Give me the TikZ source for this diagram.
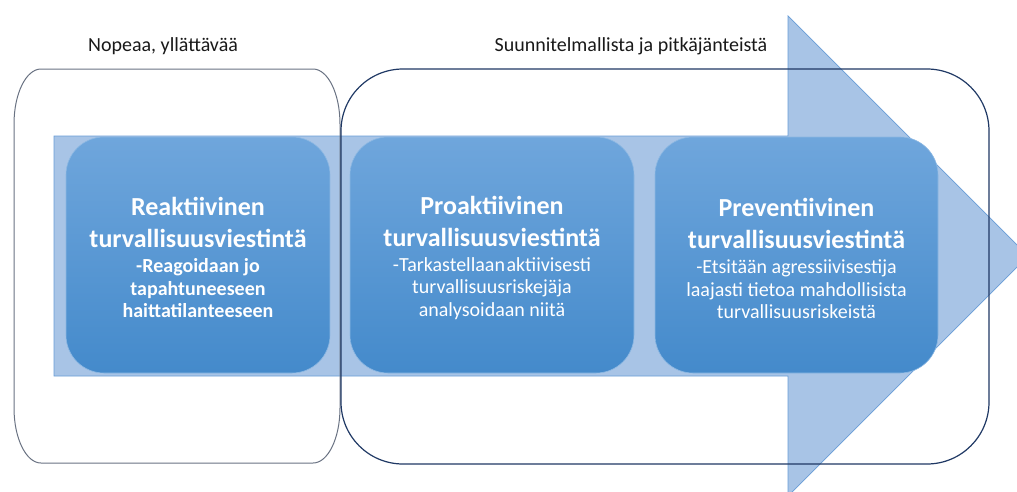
\documentclass[tikz,border=0pt]{standalone}
\usepackage{fontspec}
\setmainfont{Carlito}
\usetikzlibrary{shapes.misc}
\definecolor{arrowfill}{RGB}{168,196,230}
\definecolor{arrowline}{RGB}{104,157,214}
\definecolor{boxtop}{RGB}{111,166,220}
\definecolor{boxbot}{RGB}{68,138,203}
\definecolor{navy}{RGB}{31,56,100}
\definecolor{grayline}{RGB}{105,114,130}
\definecolor{headtext}{RGB}{25,25,25}
\tikzset{
  stagebox/.style={rectangle, rounded corners=38pt, top color=boxtop, bottom color=boxbot,
    draw=boxtop!80!white, line width=0.6pt, minimum height=236pt, inner sep=0pt},
  stagetext/.style={text=white, align=center, inner sep=0pt,
    font=\fontsize{20}{22.5}\selectfont},
  headlabel/.style={text=headtext, font=\fontsize{20}{24}\selectfont, inner sep=0pt},
}
\newcommand{\ttl}{\fontsize{26}{22.5}\selectfont\bfseries}
\newcommand{\sbt}{\fontsize{20}{22.5}\selectfont\mdseries}
\begin{document}
\begin{tikzpicture}[x=1pt,y=-1pt]
\useasboundingbox (0,0) rectangle (1017,491);
\clip (0,0) rectangle (1017,491);
% big arrow
\draw[fill=arrowfill, draw=arrowline, line width=0.7pt]
  (54,136) -- (788,136) -- (788,16) -- (1028,256) -- (788,496) -- (788,376) -- (54,376) -- cycle;
% stage boxes
\node[stagebox, minimum width=264pt] (b1) at (198,255) {};
\node[stagebox, minimum width=284pt] (b2) at (492,255) {};
\node[stagebox, minimum width=283pt] (b3) at (796.5,255) {};
\node[stagetext] (t1) at ([yshift=-2.5pt]b1.center) {\ttl Reaktiivinen\\[9.5pt]\ttl turvallisuusviestintä\\[2.5pt]\sbt\bfseries -Reagoidaan jo\\\sbt\bfseries tapahtuneeseen\\\sbt\bfseries haittatilanteeseen};
\node[stagetext] (t2) at ([yshift=-2.5pt]b2.center) {\ttl Proaktiivinen\\[9.5pt]\ttl turvallisuusviestintä\\[2.5pt]\sbt -Tarkastellaan\hspace{1.5pt}aktiivisesti\\\sbt turvallisuusriskejäja\\\sbt analysoidaan niitä};
\node[stagetext] (t3) at ([yshift=-3.5pt]b3.center) {\ttl Preventiivinen\\[9.5pt]\ttl turvallisuusviestintä\\[2.5pt]\sbt -Etsitään agressiivisestija\\\sbt laajasti tietoa mahdollisista\\\sbt turvallisuusriskeistä};
% left outline box (elliptical corners)
\draw[grayline, line width=1pt]
  (41,69) -- (313,69) arc[start angle=90,end angle=0,x radius=27pt,y radius=55pt]
  -- (340,408) arc[start angle=0,end angle=-90,x radius=27pt,y radius=55pt]
  -- (41,463) arc[start angle=270,end angle=180,x radius=27pt,y radius=55pt]
  -- (14,124) arc[start angle=180,end angle=90,x radius=27pt,y radius=55pt] -- cycle;
% right outline box
\draw[navy, line width=1.2pt, rounded corners=62pt] (341,69) rectangle (989,464);
% header labels
\node[headlabel] (h1) at (163,46) {Nopeaa, yllättävää};
\node[headlabel] (h2) at (631,46) {Suunnitelmallista ja pitkäjänteistä};
\end{tikzpicture}
\end{document}
